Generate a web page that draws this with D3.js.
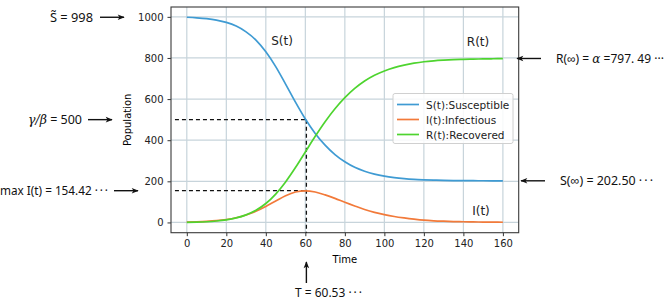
<!DOCTYPE html>
<html>
<head>
<meta charset="utf-8">
<script src="https://cdn.jsdelivr.net/npm/d3@7"></script>
<style>
  body { margin: 0; background: #fff; }
  svg { display: block; }
  .tick text { font-family: "DejaVu Sans", sans-serif; font-size: 10px; fill: #222; }
  .note { font-family: "Noto Sans", sans-serif; font-size: 12.5px; fill: #111; }
  .math { font-family: "DejaVu Serif", serif; font-style: italic; }
</style>
</head>
<body>
<svg id="chart"></svg>
<script>
// values (SIR run)
const time = [0, 5, 10, 15, 20, 25, 30, 35, 40, 45, 50, 55, 60, 65, 70, 75, 80,
  85, 90, 95, 100, 105, 110, 115, 120, 125, 130, 135, 140, 145, 150, 155, 160];
const susceptible = [998, 995.4, 991.2, 984.2, 973, 955, 927, 887, 830, 758, 673, 585, 503, 433, 376, 330, 295,
  268, 249, 235, 225, 218, 213, 209.5, 207.3, 205.7, 204.6, 203.8, 203.3, 203, 202.8, 202.6, 202.5];
const infectious = [2, 3.3, 5.4, 8.8, 14.3, 23, 36, 54, 78, 104, 130, 148, 154, 148, 134, 117, 98,
  80, 63, 49, 38, 29, 22, 16, 11, 8, 6, 4.4, 3.3, 2.4, 1.8, 1.3, 1.0];
const recovered = [0, 1.3, 3.4, 7, 12.7, 22, 37, 59, 92, 138, 197, 267, 343, 419, 490, 553, 607,
  652, 688, 716, 737, 753, 765, 774.5, 781.7, 786.3, 789.4, 791.8, 793.4, 794.6, 795.4, 796.1, 796.5];

const seriesNames = ['S(t):Susceptible', 'I(t):Infectious', 'R(t):Recovered'];
const curveLabels = ['S(t)', 'I(t)', 'R(t)'];
const xTicks = [0, 20, 40, 60, 80, 100, 120, 140, 160];
const yTicks = [0, 200, 400, 600, 800, 1000];

const startS = 998;
const threshold = 500;     // gamma / beta
const peakTime = 60.53;
const peakI = 154.42;
const endR = 797.49;
const endS = 202.50;

const width = 669, height = 301;
const plotLeft = 171, plotRight = 518.7, plotTop = 7, plotBottom = 232.7;
const colors = ['#3f9bd3', '#f27a3a', '#4ed42f'];

const svg = d3.select('#chart')
  .attr('width', width)
  .attr('height', height);

svg.append('rect').attr('width', width).attr('height', height).attr('fill', '#fff');

const x = d3.scaleLinear().domain([-8, 168]).range([plotLeft, plotRight]);
const y = d3.scaleLinear().domain([-49.9, 1047.9]).range([plotBottom, plotTop]);

// arrow heads
const defs = svg.append('defs');
defs.append('marker')
  .attr('id', 'head')
  .attr('viewBox', '0 0 10 10')
  .attr('refX', 9).attr('refY', 5)
  .attr('markerWidth', 10).attr('markerHeight', 7)
  .attr('markerUnits', 'userSpaceOnUse')
  .attr('orient', 'auto')
  .append('path')
  .attr('d', 'M0,1 L10,5 L0,9 L2.5,5 Z')
  .attr('fill', '#111');

// grid
const grid = svg.append('g');
grid.selectAll('.vg').data(xTicks).enter().append('line')
  .attr('x1', d => x(d)).attr('x2', d => x(d))
  .attr('y1', plotTop).attr('y2', plotBottom)
  .attr('stroke', '#c7d4db').attr('stroke-width', 1.2);
grid.selectAll('.hg').data(yTicks).enter().append('line')
  .attr('x1', plotLeft).attr('x2', plotRight)
  .attr('y1', d => y(d)).attr('y2', d => y(d))
  .attr('stroke', '#c7d4db').attr('stroke-width', 1.2);

// axes
svg.append('g')
  .attr('transform', `translate(0,${plotBottom})`)
  .call(d3.axisBottom(x).tickValues(xTicks).tickSize(3.5).tickPadding(4))
  .call(g => g.select('.domain').remove())
  .call(g => g.selectAll('.tick line').attr('stroke', '#333'));

svg.append('g')
  .attr('transform', `translate(${plotLeft},0)`)
  .call(d3.axisLeft(y).tickValues(yTicks).tickFormat(d3.format('d')).tickSize(3.5).tickPadding(4))
  .call(g => g.select('.domain').remove())
  .call(g => g.selectAll('.tick line').attr('stroke', '#333'));

svg.append('rect')
  .attr('x', plotLeft).attr('y', plotTop)
  .attr('width', plotRight - plotLeft).attr('height', plotBottom - plotTop)
  .attr('fill', 'none').attr('stroke', '#3a3a3a').attr('stroke-width', 1.1);

svg.append('text')
  .attr('x', (plotLeft + plotRight) / 2).attr('y', 263)
  .attr('text-anchor', 'middle')
  .style('font-family', '"DejaVu Sans", sans-serif').style('font-size', '10px')
  .text('Time');

svg.append('text')
  .attr('transform', `translate(131,${(plotTop + plotBottom) / 2}) rotate(-90)`)
  .attr('text-anchor', 'middle')
  .style('font-family', '"DejaVu Sans", sans-serif').style('font-size', '10px')
  .text('Population');

// dashed guides
const guides = svg.append('g')
  .attr('stroke', '#111').attr('stroke-width', 1.3).attr('stroke-dasharray', '4,3').attr('fill', 'none');
guides.append('line')
  .attr('x1', x(-6)).attr('x2', x(peakTime))
  .attr('y1', y(threshold)).attr('y2', y(threshold));
guides.append('line')
  .attr('x1', x(-6)).attr('x2', x(peakTime))
  .attr('y1', y(peakI)).attr('y2', y(peakI));
guides.append('line')
  .attr('x1', x(peakTime)).attr('x2', x(peakTime))
  .attr('y1', y(threshold)).attr('y2', plotBottom);

// curves
const series = [susceptible, infectious, recovered];
const line = d3.line()
  .x((d, i) => x(time[i]))
  .y(d => y(d))
  .curve(d3.curveMonotoneX);

svg.append('g').selectAll('path').data(series).enter().append('path')
  .attr('d', d => line(d))
  .attr('fill', 'none')
  .attr('stroke', (d, i) => colors[i])
  .attr('stroke-width', 1.7);

// labels on curves
const labelPos = [[282, 45], [481, 215], [478, 46]];
svg.append('g').selectAll('text').data(curveLabels).enter().append('text')
  .attr('x', (d, i) => labelPos[i][0]).attr('y', (d, i) => labelPos[i][1])
  .attr('text-anchor', 'middle')
  .style('font-family', '"DejaVu Sans", sans-serif').style('font-size', '12px')
  .attr('fill', '#222')
  .text(d => d);

// legend
const legend = svg.append('g').attr('transform', 'translate(393,93.5)');
legend.append('rect')
  .attr('width', 120).attr('height', 50).attr('rx', 2)
  .attr('fill', '#fff').attr('fill-opacity', 0.85)
  .attr('stroke', '#d0d0d0');
const rows = legend.selectAll('.row').data(seriesNames).enter().append('g')
  .attr('transform', (d, i) => `translate(0,${11 + i * 15})`);
rows.append('line')
  .attr('x1', 4).attr('x2', 26)
  .attr('stroke', (d, i) => colors[i]).attr('stroke-width', 1.7);
rows.append('text')
  .attr('x', 33).attr('y', 4)
  .style('font-family', '"DejaVu Sans", sans-serif').style('font-size', '10.5px')
  .attr('fill', '#222')
  .text(d => d);

// annotations outside the axes
function arrow(x1, y1, x2, y2) {
  svg.append('line')
    .attr('x1', x1).attr('y1', y1).attr('x2', x2).attr('y2', y2)
    .attr('stroke', '#111').attr('stroke-width', 1.4)
    .attr('marker-end', 'url(#head)');
}

// plain text squeezed/stretched to span w pixels
function note(x0, yy, w, str) {
  return svg.append('text').attr('class', 'note')
    .attr('x', x0).attr('y', yy)
    .attr('textLength', w).attr('lengthAdjust', 'spacingAndGlyphs')
    .text(str);
}
const dots = '\u00b7\u2009\u00b7\u2009\u00b7';

note(50, y(startS) + 4.5, 43, 'S\u0303 = ' + startS);
arrow(100, y(startS), 124, y(startS));

let t = svg.append('text').attr('class', 'note').attr('x', 28).attr('y', y(threshold) + 4.5);
t.append('tspan').attr('class', 'math').text('\u03b3/\u03b2');
t.append('tspan').text(' = ' + threshold);
arrow(88, y(threshold), 112, y(threshold));

note(0, y(peakI) + 4.5, 108, 'max I(t) = ' + peakI.toFixed(2) + ' ' + dots);
arrow(114, y(peakI), 138, y(peakI));

t = svg.append('text').attr('class', 'note').style('font-size', '12px')
  .attr('x', 556).attr('y', y(endR) + 4.5);
t.append('tspan').text('R(\u221e) = ');
t.append('tspan').attr('class', 'math').text('\u03b1');
t.append('tspan').text(' =797. 49 \u00b7\u00b7\u00b7');
arrow(541, y(endR), 517, y(endR));

note(560, y(endS) + 4.5, 93, 'S(\u221e) = ' + endS.toFixed(2) + ' ' + dots);
arrow(545, y(endS), 521, y(endS));

note(295, 297, 67, 'T = ' + peakTime.toFixed(2) + ' ' + dots);
arrow(x(peakTime), 283, x(peakTime), 262);
</script>
</body>
</html>
